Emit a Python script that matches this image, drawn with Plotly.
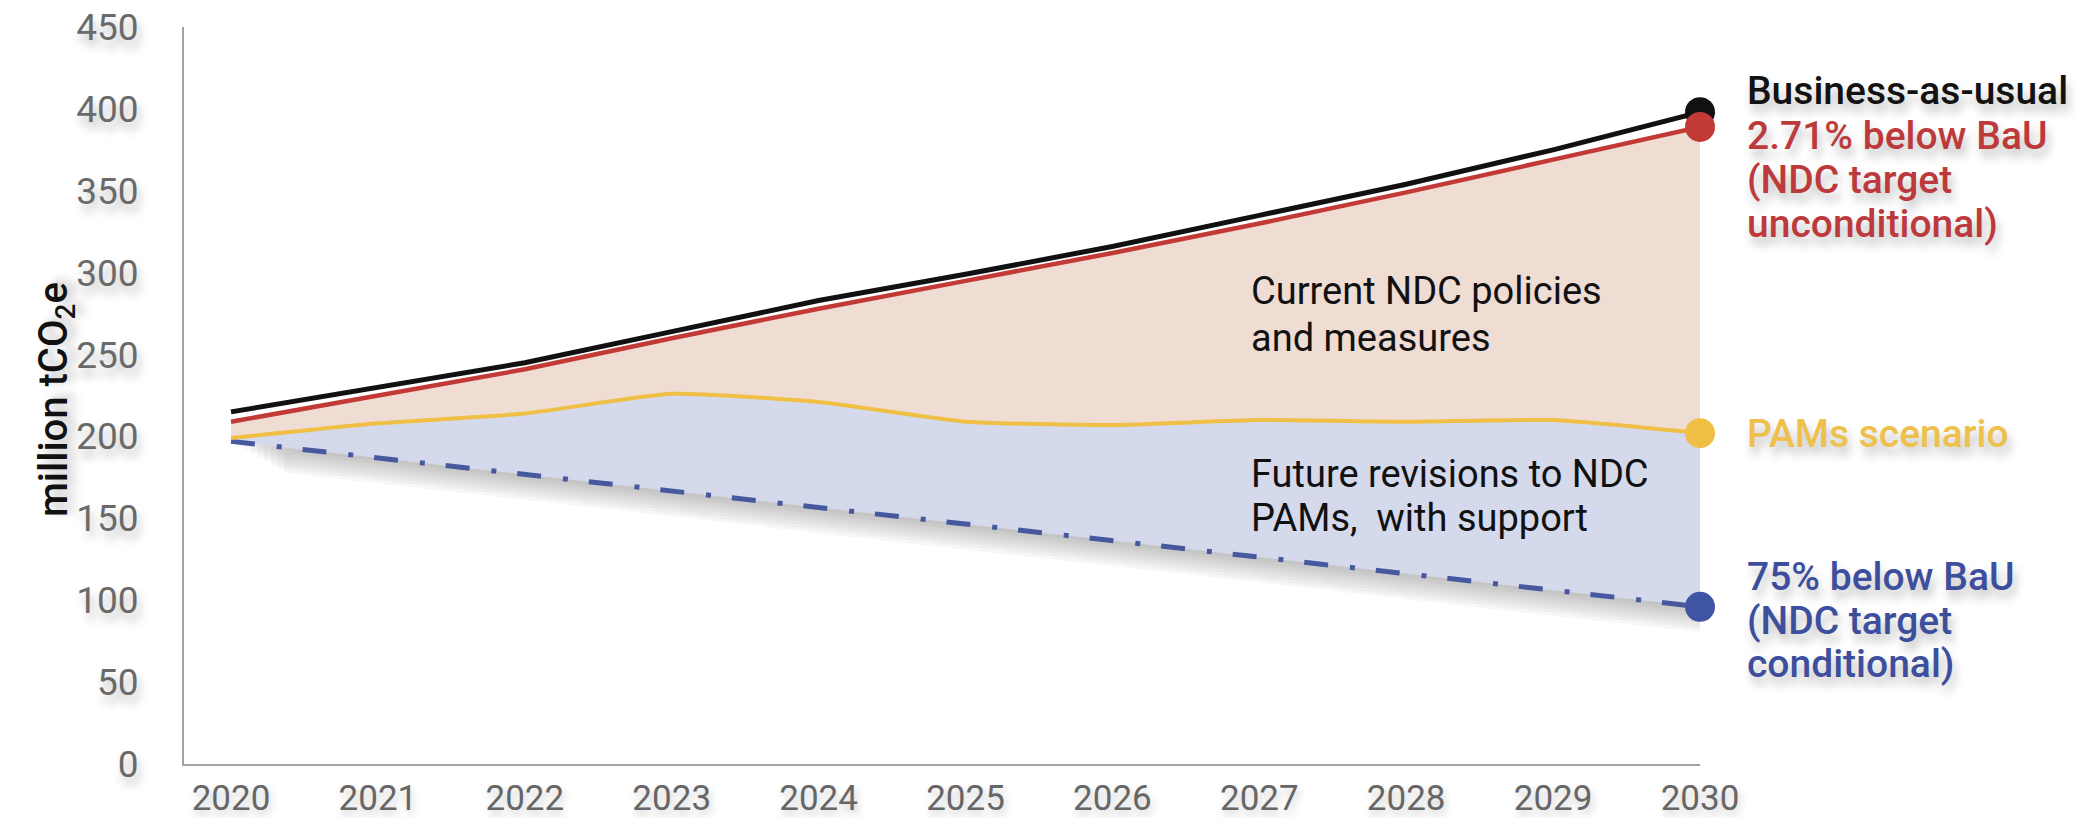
import plotly.graph_objects as go

# Emission pathways, million tCO2e
years = [2020, 2021, 2022, 2023, 2024, 2025, 2026, 2027, 2028, 2029, 2030]
bau = [215, 230, 245, 264, 283, 299, 316, 335, 354, 375, 398]
ndc_unconditional = [209, 225, 241, 260, 278, 295, 312, 330, 349, 369, 389]
pams = [199, 208, 214, 226, 221, 209, 207, 210, 209, 210, 202]
target_years = [2020, 2030]
ndc_conditional = [197, 96]

y_ticks = [0, 50, 100, 150, 200, 250, 300, 350, 400, 450]

# Plot-area pixel frame
W, H = 2095, 818
L, R, T, B = 184, 1700, 27, 764

BLACK = "#111111"
RED = "#c23a36"
YELLOW = "#f0bf45"
BLUE = "#3f54a3"
PEACH = "#efdcd3"
LAVENDER = "#d5d9ec"
FONT = "Roboto, 'Open Sans', sans-serif"
TEXT_SHADOW = "3px 8px 10px rgba(0,0,0,0.25)"


def xp(px):
    return (px - L) / (R - L)


def yp(py):
    return (B - py) / (B - T)


fig = go.Figure()

# soft drop shadow beneath the shaded region
outline_x = years + target_years[::-1]
outline_y = ndc_unconditional + ndc_conditional[::-1]
for k in range(1, 9):
    dx = 0.045 * k
    dy = -2.4 * k
    fig.add_trace(go.Scatter(
        x=[v + dx for v in outline_x], y=[v + dy for v in outline_y],
        fill="toself", fillcolor="rgba(60,60,70,0.045)",
        line=dict(width=0), mode="lines", hoverinfo="skip", showlegend=False,
    ))

# band between current policies (upper) and PAMs scenario
fig.add_trace(go.Scatter(
    x=years + years[::-1], y=ndc_unconditional + pams[::-1],
    fill="toself", fillcolor=PEACH, line=dict(width=0),
    mode="lines", hoverinfo="skip", showlegend=False,
))
# band between PAMs scenario and conditional target
fig.add_trace(go.Scatter(
    x=years + target_years[::-1], y=pams + ndc_conditional[::-1],
    fill="toself", fillcolor=LAVENDER, line=dict(width=0),
    mode="lines", hoverinfo="skip", showlegend=False,
))

# pathway lines
fig.add_trace(go.Scatter(
    x=target_years, y=ndc_conditional, mode="lines",
    line=dict(color="#46599e", width=5, dash="24px,22px,5px,21px"),
    showlegend=False, cliponaxis=False,
))
fig.add_trace(go.Scatter(
    x=years, y=pams, mode="lines",
    line=dict(color=YELLOW, width=4, shape="spline", smoothing=0.5),
    showlegend=False, cliponaxis=False,
))
fig.add_trace(go.Scatter(
    x=years, y=bau, mode="lines",
    line=dict(color=BLACK, width=5), showlegend=False, cliponaxis=False,
))
fig.add_trace(go.Scatter(
    x=years, y=ndc_unconditional, mode="lines",
    line=dict(color=RED, width=4.5), showlegend=False, cliponaxis=False,
))

# 2030 end points
end_points = [
    (bau[-1], BLACK),
    (ndc_unconditional[-1], RED),
    (pams[-1], YELLOW),
    (ndc_conditional[-1], BLUE),
]
for val, col in end_points:
    fig.add_trace(go.Scatter(
        x=[years[-1]], y=[val], mode="markers",
        marker=dict(size=30, color=col, line=dict(width=0)),
        showlegend=False, cliponaxis=False,
    ))

annotations = []


def label(text, px, py, color, size=39, weight=500, shadow=TEXT_SHADOW):
    annotations.append(dict(
        text=text, x=xp(px), y=yp(py), xref="paper", yref="paper",
        xanchor="left", yanchor="middle", showarrow=False,
        font=dict(family=FONT, size=size, color=color, weight=weight,
                  shadow=shadow),
    ))


# end-of-line labels
label("Business-as-usual", 1745, 91, "#121212")
label("2.71% below BaU", 1745, 136, "#bd3a3c")
label("(NDC target", 1745, 180, "#bd3a3c")
label("unconditional)", 1745, 224, "#bd3a3c")
label("PAMs scenario", 1745, 434, "#eec04c")
label("75% below BaU", 1745, 577, "#3d4f9c")
label("(NDC target", 1745, 621, "#3d4f9c")
label("conditional)", 1745, 664, "#3d4f9c")

# band captions
label("Current NDC policies", 1249, 291, "#111111", size=38, weight=400,
      shadow="none")
label("and measures", 1249, 338, "#111111", size=38, weight=400,
      shadow="none")
label("Future revisions to NDC", 1249, 474, "#111111", size=38, weight=400,
      shadow="none")
label("PAMs,  with support", 1249, 518, "#111111", size=38, weight=400,
      shadow="none")

# y-axis title
annotations.append(dict(
    text="million tCO<sub>2</sub>e", x=xp(56), y=yp(400),
    xref="paper", yref="paper", xanchor="center", yanchor="middle",
    textangle=-90, showarrow=False,
    font=dict(family=FONT, size=40, color="#111111", weight=500,
              shadow=TEXT_SHADOW),
))

fig.update_layout(
    width=W, height=H,
    margin=dict(l=L, r=W - R, t=T, b=H - B, pad=0, autoexpand=False),
    paper_bgcolor="white", plot_bgcolor="white",
    showlegend=False,
    annotations=annotations,
    xaxis=dict(
        range=[2019.68, 2030], tickmode="array", tickvals=years,
        ticktext=[str(y) for y in years],
        showgrid=False, zeroline=False, automargin=False,
        showline=True, linecolor="#a3a3a3", linewidth=2,
        ticks="", ticklabelstandoff=2,
        tickfont=dict(family=FONT, size=35, color="#666666",
                      shadow="2px 5px 8px rgba(0,0,0,0.22)"),
    ),
    yaxis=dict(
        range=[0, 450], tickmode="array", tickvals=y_ticks,
        showgrid=False, zeroline=False, automargin=False,
        showline=True, linecolor="#a3a3a3", linewidth=2,
        ticks="", ticklabelstandoff=36,
        tickfont=dict(family=FONT, size=37, color="#6a6a6a",
                      shadow=TEXT_SHADOW),
    ),
)

fig.write_html("out.html")
